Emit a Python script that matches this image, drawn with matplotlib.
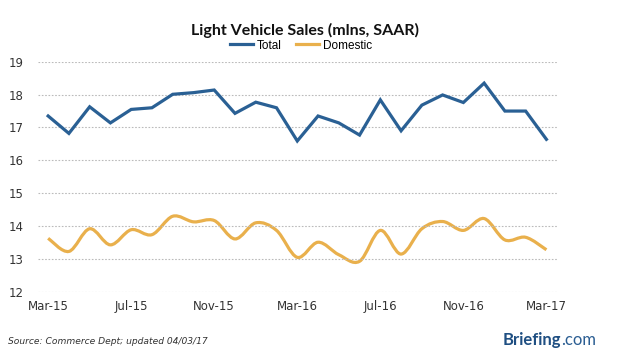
import numpy as np
import matplotlib
matplotlib.use("Agg")
import matplotlib.pyplot as plt
from matplotlib.path import Path
from matplotlib.patches import PathPatch
from matplotlib.lines import Line2D

# Monthly data, Mar-15 .. Mar-17
months = ["Mar-15", "Apr-15", "May-15", "Jun-15", "Jul-15", "Aug-15", "Sep-15",
          "Oct-15", "Nov-15", "Dec-15", "Jan-16", "Feb-16", "Mar-16", "Apr-16",
          "May-16", "Jun-16", "Jul-16", "Aug-16", "Sep-16", "Oct-16", "Nov-16",
          "Dec-16", "Jan-17", "Feb-17", "Mar-17"]
total = [17.35, 16.82, 17.63, 17.14, 17.55, 17.60, 18.01, 18.06, 18.14, 17.43,
         17.77, 17.60, 16.59, 17.35, 17.14, 16.77, 17.84, 16.90, 17.68, 17.99,
         17.76, 18.35, 17.50, 17.50, 16.64]
domestic = [13.63, 13.23, 13.92, 13.43, 13.89, 13.74, 14.30, 14.13, 14.17, 13.61,
            14.10, 13.87, 13.05, 13.51, 13.13, 12.93, 13.87, 13.15, 13.92, 14.14,
            13.87, 14.23, 13.58, 13.66, 13.28]
tick_labels = ["Mar-15", "Jul-15", "Nov-15", "Mar-16", "Jul-16", "Nov-16", "Mar-17"]

BLUE = "#2a6094"
GOLD = "#e9b04c"

x = np.arange(len(months))

fig = plt.figure(figsize=(6.4, 3.59), dpi=100)
ax = fig.add_axes([0.059, 0.187, 0.811, 0.641])

ax.plot(x, total, color=BLUE, lw=2.3, solid_joinstyle="miter")

# smoothed line like Excel's (Catmull-Rom as cubic Bezier)
y = np.array(domestic)
verts = [(x[0], y[0])]
codes = [Path.MOVETO]
for i in range(len(x) - 1):
    p0 = (x[max(i - 1, 0)], y[max(i - 1, 0)])
    p1 = (x[i], y[i])
    p2 = (x[i + 1], y[i + 1])
    p3 = (x[min(i + 2, len(x) - 1)], y[min(i + 2, len(x) - 1)])
    c1 = (p1[0] + (p2[0] - p0[0]) / 6, p1[1] + (p2[1] - p0[1]) / 6)
    c2 = (p2[0] - (p3[0] - p1[0]) / 6, p2[1] - (p3[1] - p1[1]) / 6)
    verts += [c1, c2, p2]
    codes += [Path.CURVE4] * 3
ax.add_patch(PathPatch(Path(verts, codes), fill=False, edgecolor=GOLD, lw=2.3))

ax.set_xlim(-0.5, 24.5)
ax.set_ylim(12, 19)
ax.set_yticks(range(12, 20))
ax.set_xticks(x[::4])
ax.set_xticklabels(tick_labels)
ax.tick_params(length=0, colors="#333333")
ax.tick_params(axis="y", pad=10)
ax.tick_params(axis="x", pad=6)
for lab in ax.get_xticklabels() + ax.get_yticklabels():
    lab.set_family("DejaVu Sans")
    lab.set_fontsize(8.5)
ax.grid(axis="y", color="#bbbbbb", linestyle=(0, (1.5, 1.5)), lw=0.8)
for s in ax.spines.values():
    s.set_visible(False)

fig.text(0.477, 0.915, "Light Vehicle Sales (mlns, SAAR)", ha="center", va="center",
         fontsize=11.5, fontweight="bold", family="Lato", color="#111111")

handles = [Line2D([], [], color=BLUE, lw=2.3), Line2D([], [], color=GOLD, lw=2.3)]
fig.legend(handles, ["Total", "Domestic"], loc="center", bbox_to_anchor=(0.47, 0.873),
           ncol=2, frameon=False, handlelength=2.0, handletextpad=0.3,
           columnspacing=1.2, prop={"family": "Liberation Sans", "size": 8.5})

fig.text(0.012, 0.048, "Source: Commerce Dept; updated 04/03/17", ha="left", va="center",
         fontsize=6.6, style="italic", color="#333333")
t1 = fig.text(0.785, 0.052, "Briefing", ha="left", va="center", fontsize=12,
              fontweight="bold", color="#1f4f82", family="Lato")
fig.canvas.draw()
bb = t1.get_window_extent(fig.canvas.get_renderer())
x_end = fig.transFigure.inverted().transform((bb.x1, bb.y0))[0]
fig.text(x_end, 0.052, ".com", ha="left", va="center", fontsize=12,
         color="#2a5d92", family="Lato")

fig.savefig("out.png", dpi=100)
